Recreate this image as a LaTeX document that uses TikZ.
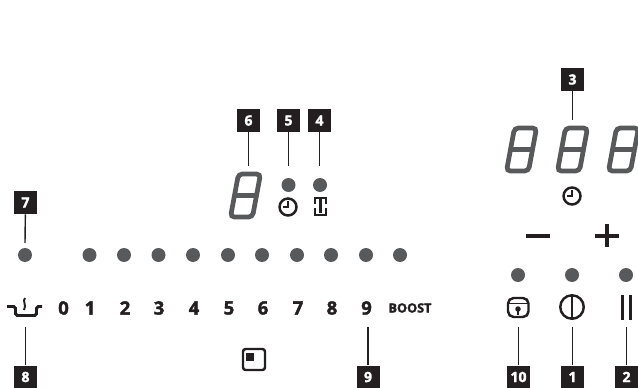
\documentclass[tikz,border=0pt]{standalone}
\usepackage{fontspec}
\setmainfont{Open Sans}[BoldFeatures={FakeBold=2}]
\usepackage{xcolor}
\definecolor{inkcolor}{RGB}{35,31,32}
\definecolor{dotcolor}{RGB}{88,89,91}
\tikzset{
  labelbox/.style={fill=inkcolor, text=white, minimum size=0.46cm, inner sep=0pt, font=\fontsize{8}{8}\selectfont\bfseries},
  leader/.style={draw=inkcolor, line width=0.8pt},
  ledsmall/.style={circle, fill=dotcolor, minimum size=0.28cm, inner sep=0pt},
  levelnum/.style={text=inkcolor, inner sep=0pt, font=\fontsize{10.5}{10.5}\selectfont\bfseries},
  iconline/.style={draw=inkcolor, line width=1.4pt},
  segdigit/.pic={
    \draw[dotcolor, line width=2.7pt, rounded corners=2.2pt] (-7,-21.5) -- (15,-21.5) -- (7,21.5) -- (-15,21.5) -- cycle;
    \draw[dotcolor, line width=2.7pt] (-11,0) -- (11,0);
  },
  clockicon/.pic={
    \draw[iconline] (0,0) circle (0.17cm);
    \draw[iconline] (0,-6) -- (0,0) -- (-5,0);
  }
}
\begin{document}
\begin{tikzpicture}[x=0.02cm, y=-0.02cm]
\useasboundingbox (0,0) rectangle (638,388);

% 1. LEFT SLIDER LEDS
\node[ledsmall] (led7) at (25,255) {};
\node[ledsmall] (led0) at (89.5,255) {};
\node[ledsmall] at (124,255) {};
\node[ledsmall] at (158.5,255) {};
\node[ledsmall] at (193,255) {};
\node[ledsmall] at (228,255) {};
\node[ledsmall] at (262,255) {};
\node[ledsmall] at (297,255) {};
\node[ledsmall] at (331,255) {};
\node[ledsmall] at (366,255) {};
\node[ledsmall] at (400,255) {};

% 2. LEVEL NUMBERS
\node[levelnum] at (63.5,308) {0};
\node[levelnum] at (90,308) {1};
\node[levelnum] at (125,308) {2};
\node[levelnum] at (159,308) {3};
\node[levelnum] at (194,308) {4};
\node[levelnum] at (229,308) {5};
\node[levelnum] at (263,308) {6};
\node[levelnum] at (298,308) {7};
\node[levelnum] at (332,308) {8};
\node[levelnum] (num9) at (366.5,308) {9};
\node[levelnum, font=\fontsize{7.2}{7.2}\selectfont\bfseries] at (410,308) {BOOST};

% Keep warm icon
\draw[iconline, line width=1.7pt, rounded corners=1pt] (7,306.5) -- (15.5,306.5) -- (15.5,315.5) -- (36.5,315.5) -- (36.5,306.5) -- (42,306.5);
\draw[inkcolor, line width=1.1pt] (25,298) .. controls (22,301) and (27,305) .. (24,310);

% Bridge icon
\draw[iconline, rounded corners=1.5pt] (243,349) rectangle (265,370);
\fill[inkcolor] (246,353) rectangle (254,361);

% 3. MIDDLE DISPLAY
\pic at (245.5,195.5) {segdigit};
\node[ledsmall] (led5) at (288.5,185) {};
\node[ledsmall] (led4) at (320,185) {};
\pic at (288,207) {clockicon};
\draw[iconline] (315,204) -- (315,198) -- (326,198) -- (326,204);
\draw[iconline] (320.5,198) -- (320.5,213);
\draw[iconline] (315,208) -- (315,215) -- (326,215) -- (326,208);

% 4. RIGHT DISPLAY
\pic at (521.5,149.5) {segdigit};
\pic at (572.5,149.5) {segdigit};
\pic at (623.5,149.5) {segdigit};
\pic at (572,196) {clockicon};

% Minus & Plus
\draw[iconline, line width=2pt] (526,236) -- (550,236);
\draw[iconline, line width=2pt] (595,236) -- (619,236);
\draw[iconline, line width=2pt] (607,224) -- (607,247);

% 5. RIGHT KEYS
\node[ledsmall] at (518,275) {};
\node[ledsmall] at (572,275) {};
\node[ledsmall] at (626,275) {};

% Lock
\draw[iconline, rounded corners=3.2pt] (508,298) rectangle (528.5,317);
\draw[inkcolor, line width=1.1pt] (508,303.5) -- (528.5,303.5);
\fill[inkcolor] (518,309) circle (0.055cm);
\fill[inkcolor] (517,309) rectangle (519,314.5);

% On off
\draw[iconline] (572,307) circle (0.235cm);
\draw[iconline, line width=1.6pt] (572,295.5) -- (572,318.5);

% Pause
\draw[iconline, line width=1.6pt] (622.5,295) -- (622.5,320);
\draw[iconline, line width=1.6pt] (630.5,295) -- (630.5,320);

% 6. LABELS & LEADERS
\node[labelbox] (lab7) at (25.5,202.5) {7};
\coordinate (end7) at (25,243);
\draw[leader] (lab7) -- (end7);

\node[labelbox] (lab8) at (25.5,377) {8};
\coordinate (end8) at (25.5,327);
\draw[leader] (lab8) -- (end8);

\node[labelbox] (lab6) at (248.5,120.5) {6};
\coordinate (end6) at (248.5,166);
\draw[leader] (lab6) -- (end6);

\node[labelbox] (lab5) at (288.5,120.5) {5};
\coordinate (end5) at (288.5,166);
\draw[leader] (lab5) -- (end5);

\node[labelbox] (lab4) at (319.5,120.5) {4};
\coordinate (end4) at (319.5,166);
\draw[leader] (lab4) -- (end4);

\node[labelbox] (lab3) at (572.5,79.5) {3};
\coordinate (end3) at (572.5,120);
\draw[leader] (lab3) -- (end3);

\node[labelbox] (lab9) at (368,377) {9};
\coordinate (end9) at (368,327);
\draw[leader] (lab9) -- (end9);

\node[labelbox] (lab10) at (518.5,377) {10};
\coordinate (end10) at (518.5,327);
\draw[leader] (lab10) -- (end10);

\node[labelbox] (lab1) at (572.5,377) {1};
\coordinate (end1) at (572.5,327);
\draw[leader] (lab1) -- (end1);

\node[labelbox] (lab2) at (626.5,377) {2};
\coordinate (end2) at (626.5,327);
\draw[leader] (lab2) -- (end2);

\end{tikzpicture}
\end{document}
